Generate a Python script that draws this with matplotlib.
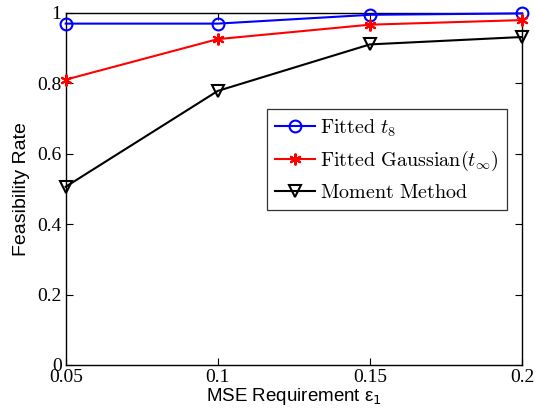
import numpy as np
import matplotlib
matplotlib.use('Agg')
import matplotlib.pyplot as plt
from matplotlib.font_manager import FontProperties

# MSE requirement values on x axis
mse_req = [0.05, 0.1, 0.15, 0.2]
# feasibility rate
fitted_t8 = [0.969, 0.969, 0.994, 0.998]
fitted_gauss = [0.81, 0.925, 0.966, 0.979]
moment_method = [0.506, 0.778, 0.91, 0.931]
labels = [r'$\mathrm{Fitted}\ t_8$', r'$\mathrm{Fitted\ Gaussian}(t_\infty)$', r'$\mathrm{Moment\ Method}$']

fig = plt.figure(figsize=(5.35, 4.19), dpi=100)
ax = fig.add_axes([0.1228, 0.1289, 0.853, 0.8408])

ax.plot(mse_req, fitted_t8, color='blue', lw=1.5, marker='o', ms=8.5, mfc='none', mew=1.5,
        label=labels[0], clip_on=False, zorder=3)
ax.plot(mse_req, fitted_gauss, color='red', lw=1.5, marker=(6, 2, 0), ms=8.5, mew=1.5,
        label=labels[1], clip_on=False, zorder=3)
ax.plot(mse_req, moment_method, color='black', lw=1.5, marker='v', ms=8.5, mfc='none', mew=1.5,
        label=labels[2], clip_on=False, zorder=3)

ax.set_xlim(0.05, 0.2)
ax.set_ylim(0, 1)
ax.set_xticks([0.05, 0.1, 0.15, 0.2])
ax.set_xticklabels(['0.05', '0.1', '0.15', '0.2'])
ax.set_yticks([0, 0.2, 0.4, 0.6, 0.8, 1])
ax.set_yticklabels(['0', '0.2', '0.4', '0.6', '0.8', '1'])
ax.tick_params(direction='in', top=True, right=True, length=5, width=0.8, labelsize=14, pad=3)
for lbl in ax.get_xticklabels() + ax.get_yticklabels():
    lbl.set_fontfamily('Liberation Serif')
for s in ax.spines.values():
    s.set_linewidth(1.0)

ax.set_xlabel('MSE Requirement ε$_1$', fontsize=13.5, family='Liberation Sans',
              math_fontfamily='dejavusans', labelpad=0)
ax.set_ylabel('Feasibility Rate', fontsize=14, family='Liberation Sans', labelpad=5)

leg_font = FontProperties(size=14.5, math_fontfamily='cm')
leg = ax.legend(loc='upper left', bbox_to_anchor=(0.441, 0.726), prop=leg_font, frameon=True,
                fancybox=False, edgecolor='black', handlelength=2.0, borderpad=0.4,
                labelspacing=0.5, handletextpad=0.25, borderaxespad=0)
leg.get_frame().set_linewidth(0.9)

fig.savefig('out.png', dpi=100)
